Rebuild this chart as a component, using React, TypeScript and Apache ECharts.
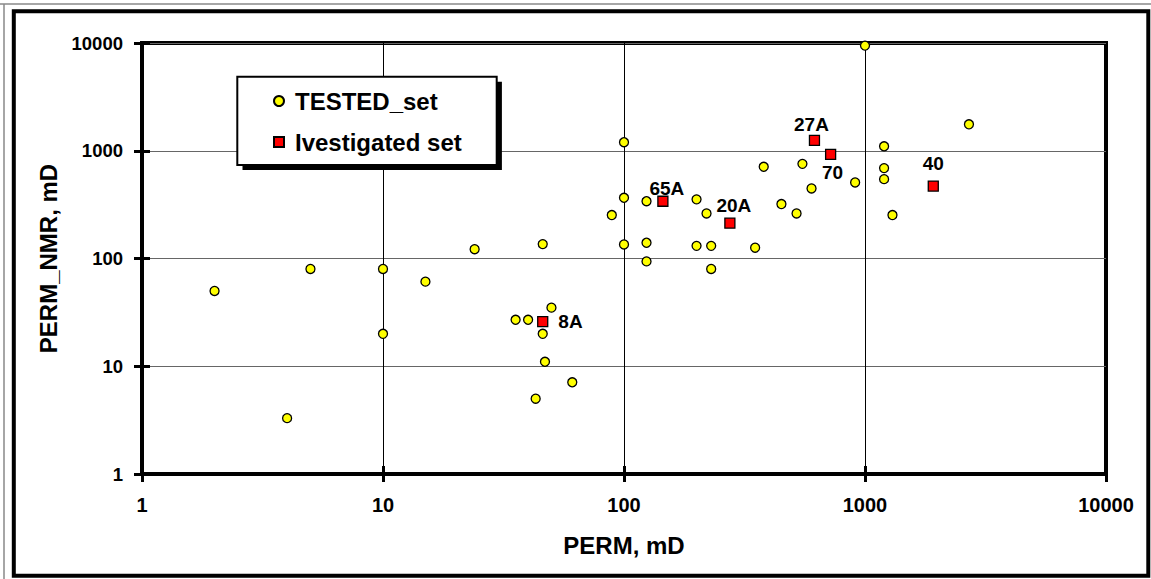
import React, { useEffect, useRef } from "react";
import * as echarts from "echarts";

// ---- Data ----
const testedPerm = [2, 4, 5, 10, 10, 15, 24, 35.5, 40, 50, 46, 47, 61, 43, 46, 100, 100, 100, 89, 124, 124, 124, 200, 220, 200, 230, 230, 350, 380, 450, 520, 550, 600, 910, 1000, 1200, 1200, 1200, 1300, 2700];
const testedNmr = [50, 3.3, 80, 80, 20, 61, 122, 27, 27, 35, 20, 11, 7.1, 5, 136, 1200, 366, 135, 253, 340, 140, 94, 354, 262, 131, 131, 80, 126, 710, 320, 262, 756, 447, 508, 9460, 1100, 690, 545, 253, 1760];

const investigatedPerm = [46, 145, 275, 617, 720, 1920];
const investigatedNmr = [26, 340, 213, 1246, 924, 470];
const investigatedNames = ["8A", "65A", "20A", "27A", "70", "40"];

const seriesNames = ["TESTED_set", "Ivestigated set"];
const xAxisName = "PERM, mD";
const yAxisName = "PERM_NMR, mD";
const axisMin = 1;
const axisMax = 10000;

const FONT = '"Liberation Sans", Arial, sans-serif';

export default function App() {
  const ref = useRef<HTMLDivElement>(null);

  useEffect(() => {
    if (!ref.current) return;
    const chart = echarts.init(ref.current, null, { renderer: "svg" });

    const labelStyles: any[] = [
      { position: "right", distance: 10 },
      { position: "top", distance: 0, offset: [4, 2] },
      { position: "top", distance: 2, offset: [4, 0] },
      { position: "top", distance: 1, offset: [-3, 0] },
      { position: "bottom", distance: 3, offset: [2, 0] },
      { position: "top", distance: 7 },
    ];

    const fmt = (v: number) => String(Math.round(v));

    const mainAxisCommon = {
      type: "log",
      logBase: 10,
      min: axisMin,
      max: axisMax,
      axisLine: { show: true, onZero: false, lineStyle: { color: "#000", width: 4 } },
      axisTick: { show: true, length: 8, lineStyle: { color: "#000", width: 3 } },
      minorTick: { show: false },
    };
    const innerAxisCommon = {
      type: "log",
      logBase: 10,
      min: axisMin,
      max: axisMax,
      axisLine: { show: false },
      axisTick: { show: true, inside: true, length: 8, lineStyle: { color: "#000", width: 3 } },
      axisLabel: { show: false },
      splitLine: { show: false },
    };

    const option: any = {
      animation: false,
      backgroundColor: "#fff",
      grid: {
        left: 142,
        right: 45,
        top: 43,
        bottom: 105,
        show: true,
        borderColor: "#000",
        borderWidth: 4,
        backgroundColor: "transparent",
      },
      xAxis: [
        {
          ...mainAxisCommon,
          position: "bottom",
          axisLabel: {
            formatter: fmt,
            fontSize: 20,
            fontWeight: "bold",
            color: "#000",
            fontFamily: FONT,
            margin: 21,
          },
          splitLine: { show: true, lineStyle: { color: "#000", width: 1 } },
          name: xAxisName,
          nameLocation: "middle",
          nameGap: 59,
          nameTextStyle: { fontSize: 24, fontWeight: "bold", color: "#000", fontFamily: FONT },
        },
        { ...innerAxisCommon, position: "bottom" },
      ],
      yAxis: [
        {
          ...mainAxisCommon,
          position: "left",
          axisLabel: {
            formatter: fmt,
            fontSize: 18.5,
            fontWeight: "bold",
            color: "#000",
            fontFamily: FONT,
            margin: 19,
          },
          splitLine: { show: true, lineStyle: { color: "#666", width: 1 } },
          name: yAxisName,
          nameLocation: "middle",
          nameGap: 82,
          nameTextStyle: { fontSize: 24, fontWeight: "bold", color: "#000", fontFamily: FONT },
        },
        { ...innerAxisCommon, position: "left" },
      ],
      legend: {
        show: true,
        orient: "vertical",
        left: 273,
        top: 89,
        padding: 0,
        itemWidth: 10,
        itemHeight: 10,
        itemGap: 17,
        z: 20,
        textStyle: {
          fontSize: 24,
          fontWeight: "bold",
          color: "#000",
          fontFamily: FONT,
          padding: [0, 0, 0, 6],
        },
        data: seriesNames,
      },
      graphic: [
        {
          type: "line",
          shape: { x1: 0, y1: 4, x2: 1151, y2: 4 },
          style: { stroke: "#888", lineWidth: 1.5 },
          z: 0,
        },
        {
          type: "line",
          shape: { x1: 4, y1: 4, x2: 4, y2: 579 },
          style: { stroke: "#888", lineWidth: 1.5 },
          z: 0,
        },
        {
          type: "rect",
          shape: { x: 13.8, y: 11.3, width: 1134.5, height: 564.4 },
          style: { fill: "none", stroke: "#000", lineWidth: 4 },
          z: 0,
        },
        {
          type: "rect",
          shape: { x: 242.5, y: 81.7, width: 259.4, height: 88.3 },
          style: { fill: "#000" },
          z: 10,
        },
        {
          type: "rect",
          shape: { x: 237.3, y: 76.7, width: 259.4, height: 88.3 },
          style: { fill: "#fff", stroke: "#000", lineWidth: 2 },
          z: 10,
        },
      ],
      series: [
        {
          name: seriesNames[0],
          type: "scatter",
          xAxisIndex: 0,
          yAxisIndex: 0,
          symbol: "circle",
          symbolSize: 9,
          clip: false,
          itemStyle: { color: "#FFFF00", borderColor: "#000", borderWidth: 1.3, opacity: 1 },
          data: testedPerm.map((x, i) => [x, testedNmr[i]]),
          z: 5,
        },
        {
          name: seriesNames[1],
          type: "scatter",
          xAxisIndex: 0,
          yAxisIndex: 0,
          symbol: "rect",
          symbolSize: 10,
          clip: false,
          itemStyle: { color: "#FF0000", borderColor: "#000", borderWidth: 1.3, opacity: 1 },
          label: {
            show: true,
            formatter: "{b}",
            fontSize: 19,
            fontWeight: "bold",
            color: "#000",
            fontFamily: FONT,
          },
          data: investigatedPerm.map((x, i) => ({
            value: [x, investigatedNmr[i]],
            name: investigatedNames[i],
            label: labelStyles[i],
          })),
          z: 6,
        },
      ],
    };

    chart.setOption(option);
    return () => chart.dispose();
  }, []);

  return (
    <div
      ref={ref}
      style={{ position: "absolute", left: 0, top: 0, width: 1151, height: 579, background: "#fff" }}
    />
  );
}
